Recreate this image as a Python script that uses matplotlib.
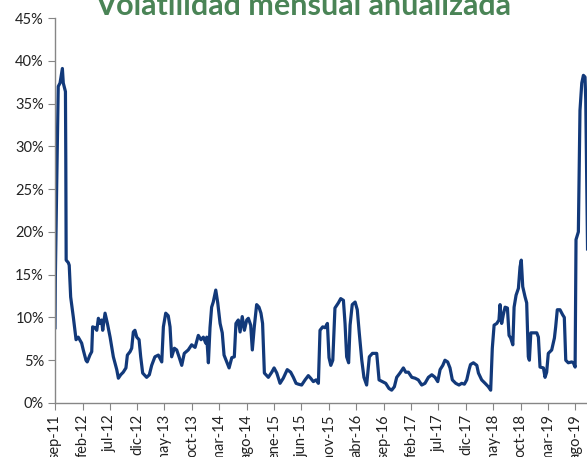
import pandas as pd
import matplotlib.pyplot as plt
from matplotlib.ticker import MultipleLocator, PercentFormatter

# volatilidad mensual anualizada (%)
fechas = [
    "2011-09-01", "2011-09-03", "2011-09-10", "2011-09-19", "2011-09-29", "2011-10-12",
    "2011-10-17", "2011-10-29", "2011-10-31", "2011-11-02", "2011-11-14", "2011-11-19",
    "2011-11-27", "2011-12-12", "2011-12-27", "2012-01-08", "2012-01-27", "2012-02-05",
    "2012-02-20", "2012-02-27", "2012-03-13", "2012-03-23", "2012-03-28", "2012-04-10",
    "2012-04-20", "2012-04-29", "2012-05-08", "2012-05-17", "2012-05-23", "2012-06-05",
    "2012-06-18", "2012-07-03", "2012-07-21", "2012-08-09", "2012-08-18", "2012-08-31",
    "2012-09-14", "2012-09-29", "2012-10-07", "2012-10-22", "2012-10-31", "2012-11-09",
    "2012-11-18", "2012-11-28", "2012-12-11", "2012-12-20", "2012-12-31", "2013-01-22",
    "2013-02-06", "2013-02-19", "2013-03-09", "2013-03-28", "2013-04-16", "2013-04-25",
    "2013-05-08", "2013-05-22", "2013-06-01", "2013-06-10", "2013-06-25", "2013-07-08",
    "2013-07-21", "2013-08-05", "2013-08-19", "2013-09-10", "2013-09-29", "2013-10-18",
    "2013-11-05", "2013-11-20", "2013-12-03", "2013-12-16", "2013-12-22", "2013-12-31",
    "2014-01-09", "2014-01-18", "2014-01-27", "2014-02-10", "2014-02-21", "2014-03-06",
    "2014-03-18", "2014-03-28", "2014-04-12", "2014-04-25", "2014-05-10", "2014-05-24",
    "2014-06-02", "2014-06-15", "2014-06-25", "2014-07-07", "2014-07-19", "2014-08-01",
    "2014-08-10", "2014-08-23", "2014-09-01", "2014-09-12", "2014-09-25", "2014-10-08",
    "2014-10-19", "2014-10-28", "2014-11-07", "2014-11-29", "2014-12-18", "2014-12-31",
    "2015-01-15", "2015-02-02", "2015-02-20", "2015-03-14", "2015-04-02", "2015-04-17",
    "2015-05-02", "2015-05-15", "2015-06-02", "2015-06-21", "2015-07-09", "2015-07-22",
    "2015-08-06", "2015-08-21", "2015-09-03", "2015-09-12", "2015-09-27", "2015-10-10",
    "2015-10-23", "2015-11-01", "2015-11-11", "2015-11-22", "2015-12-04", "2015-12-23",
    "2016-01-05", "2016-01-20", "2016-01-29", "2016-02-07", "2016-02-18", "2016-02-26",
    "2016-03-09", "2016-03-25", "2016-04-06", "2016-04-17", "2016-05-01", "2016-05-13",
    "2016-05-28", "2016-06-12", "2016-06-29", "2016-07-23", "2016-08-05", "2016-08-23",
    "2016-09-11", "2016-09-29", "2016-10-14", "2016-10-29", "2016-11-11", "2016-11-29",
    "2016-12-18", "2016-12-31", "2017-01-15", "2017-02-03", "2017-02-21", "2017-03-11",
    "2017-03-30", "2017-04-17", "2017-05-06", "2017-05-25", "2017-06-12", "2017-06-27",
    "2017-07-10", "2017-07-25", "2017-08-06", "2017-08-21", "2017-09-03", "2017-09-16",
    "2017-10-05", "2017-10-23", "2017-11-07", "2017-11-22", "2017-12-05", "2017-12-18",
    "2017-12-26", "2018-01-11", "2018-01-30", "2018-02-08", "2018-02-26", "2018-03-17",
    "2018-04-04", "2018-04-17", "2018-04-26", "2018-05-06", "2018-05-21", "2018-06-02",
    "2018-06-08", "2018-06-17", "2018-06-26", "2018-07-06", "2018-07-19", "2018-07-28",
    "2018-08-06", "2018-08-18", "2018-08-25", "2018-09-05", "2018-09-18", "2018-09-27",
    "2018-10-04", "2018-10-12", "2018-10-25", "2018-11-03", "2018-11-12", "2018-11-18",
    "2018-11-26", "2018-12-10", "2018-12-29", "2019-01-07", "2019-01-16", "2019-02-04",
    "2019-02-13", "2019-02-22", "2019-03-03", "2019-03-22", "2019-04-06", "2019-04-13",
    "2019-04-22", "2019-05-07", "2019-05-22", "2019-05-31", "2019-06-08", "2019-06-22",
    "2019-07-11", "2019-07-20", "2019-07-30", "2019-08-04", "2019-08-17", "2019-08-26",
    "2019-09-05", "2019-09-14", "2019-09-23", "2019-09-27", "2019-10-07",
]
volatilidad = [
    8.8, 14.7, 24.9, 37.0, 37.4, 39.1,
    37.4, 36.4, 28.4, 16.7, 16.4, 16.1,
    12.4, 10.0, 7.4, 7.7, 7.0, 6.2,
    5.0, 4.8, 5.6, 6.0, 8.9, 8.8,
    8.5, 9.9, 9.3, 9.7, 8.5, 10.5,
    9.3, 7.7, 5.4, 3.9, 2.9, 3.3,
    3.6, 4.1, 5.6, 6.0, 6.4, 8.3,
    8.5, 7.7, 7.4, 5.4, 3.5, 3.0,
    3.3, 4.4, 5.4, 5.6, 4.8, 8.9,
    10.5, 10.2, 8.9, 5.4, 6.4, 6.2,
    5.4, 4.4, 5.8, 6.2, 6.8, 6.5,
    7.9, 7.4, 7.7, 7.0, 7.7, 4.7,
    8.8, 11.2, 11.8, 13.2, 11.7, 9.3,
    8.2, 5.6, 4.8, 4.1, 5.3, 5.4,
    9.3, 9.7, 8.3, 10.1, 8.5, 9.7,
    9.9, 9.1, 6.2, 8.9, 11.5, 11.2,
    10.5, 9.3, 3.5, 3.0, 3.6, 4.1,
    3.5, 2.3, 2.9, 3.9, 3.6, 3.0,
    2.3, 2.2, 2.1, 2.7, 3.2, 2.9,
    2.5, 2.7, 2.3, 8.5, 8.9, 8.8,
    9.3, 5.3, 4.4, 5.0, 11.1, 11.7,
    12.2, 12.0, 9.3, 5.4, 4.7, 9.1,
    11.5, 11.8, 10.9, 8.2, 5.0, 3.0,
    2.1, 5.4, 5.8, 5.8, 2.7, 2.5,
    2.3, 1.7, 1.5, 1.9, 3.0, 3.5,
    4.1, 3.6, 3.6, 3.0, 2.9, 2.7,
    2.1, 2.3, 3.0, 3.3, 3.0, 2.5,
    3.9, 4.4, 5.0, 4.8, 4.1, 2.7,
    2.3, 2.1, 2.3, 2.2, 2.7, 3.9,
    4.5, 4.7, 4.4, 3.5, 2.7, 2.3,
    1.9, 1.5, 6.4, 9.1, 9.3, 9.7,
    11.5, 9.3, 10.3, 11.2, 11.1, 7.9,
    7.6, 6.8, 11.2, 12.6, 13.4, 15.9,
    16.7, 13.6, 12.4, 11.7, 5.4, 5.0,
    8.2, 8.2, 8.2, 7.7, 4.2, 4.1,
    3.0, 3.6, 5.8, 6.2, 7.6, 8.9,
    10.9, 10.9, 10.3, 10.0, 5.0, 4.7,
    4.8, 4.7, 4.2, 19.1, 20.0, 34.2,
    37.4, 38.3, 38.1, 35.4, 18.0,
]

etiquetas = ["sep-11", "feb-12", "jul-12", "dic-12", "may-13", "oct-13", "mar-14",
             "ago-14", "ene-15", "jun-15", "nov-15", "abr-16", "sep-16", "feb-17",
             "jul-17", "dic-17", "may-18", "oct-18", "mar-19", "ago-19"]

titulo = "Volatilidad mensual anualizada"

plt.rcParams['font.family'] = ['Lato', 'DejaVu Sans']

fig = plt.figure(figsize=(5.87, 4.57), dpi=100)
ax = fig.add_axes([55 / 587, 54 / 457, 532 / 587, 385 / 457])

x = pd.to_datetime(fechas)
ax.plot(x, volatilidad, color='#12397a', lw=2.3, solid_joinstyle='round')

ticks = pd.date_range('2011-09-01', periods=len(etiquetas), freq='5MS')
ax.set_xticks(ticks)
ax.set_xticklabels(etiquetas, rotation=90, fontsize=10.5, color='#222222')
ax.set_xlim(pd.Timestamp('2011-09-01'), pd.Timestamp('2019-10-04'))

ax.set_ylim(0, 45)
ax.yaxis.set_major_locator(MultipleLocator(5))
ax.yaxis.set_major_formatter(PercentFormatter(decimals=0))
ax.tick_params(axis='y', labelsize=10.5, colors='#222222', length=5, color='#868686', pad=3)
ax.tick_params(axis='x', length=5, color='#868686', pad=3)

for side in ['top', 'right']:
    ax.spines[side].set_visible(False)
for side in ['left', 'bottom']:
    ax.spines[side].set_color('#868686')
    ax.spines[side].set_linewidth(1.0)

fig.text(303 / 587, 1 - 15 / 457, titulo, ha='center', va='baseline',
         fontsize=22, fontweight='bold', color='#4a8456')

fig.savefig('out.png', dpi=100)
